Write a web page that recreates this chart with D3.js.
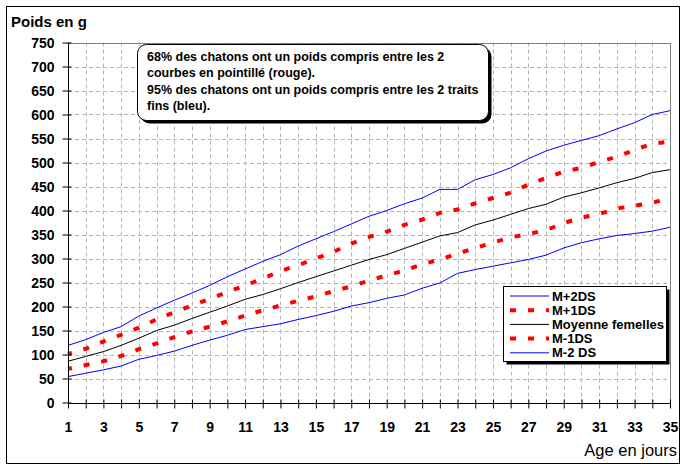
<!DOCTYPE html>
<html><head><meta charset="utf-8">
<script src="https://cdn.jsdelivr.net/npm/d3@7"></script>
<style>
body{margin:0;background:#fff}
text{font-family:"Liberation Sans",Arial,sans-serif}
</style></head>
<body><svg id="c" width="688" height="472"></svg>
<script>
const days = [1,2,3,4,5,6,7,8,9,10,11,12,13,14,15,16,17,18,19,20,21,22,23,24,25,26,27,28,29,30,31,32,33,34,35];
const mPlus2 = [119,131,146,158,180,197,213,228,244,262,278,294,308,326,341,356,372,388,400,414,426,444,444,464,475,489,508,524,536,546,556,570,583,600,608];
const mPlus1 = [101,112,127,141,156,173,188,202,216,230,244,258,274,286,300,314,331,345,356,370,381,395,402,415,426,437,454,468,481,489,501,512,526,539,544];
const mean   = [86,96,106,119,134,150,161,175,188,201,215,225,237,250,262,274,286,298,308,321,334,347,354,370,380,392,404,413,428,437,447,458,467,479,485];
const mMinus1= [70,78,86,97,111,123,136,148,158,169,181,192,202,212,221,232,242,254,265,275,288,298,310,322,333,344,351,359,374,385,393,404,410,416,426];
const mMinus2= [54,61,68,76,90,98,107,119,130,140,152,158,164,173,181,190,201,208,217,224,238,249,269,277,284,291,298,307,322,333,341,348,352,357,365];
const yTicks = [0,50,100,150,200,250,300,350,400,450,500,550,600,650,700,750];
const seriesNames = ["M+2DS","M+1DS","Moyenne femelles","M-1DS","M-2 DS"];
const noteLines = ["68% des chatons ont un poids compris entre les 2","courbes en pointillé (rouge).","95% des chatons ont un poids compris entre les 2 traits","fins (bleu)."];
const yTitle = "Poids en g", xTitle = "Age en jours";

const series = [
  {name:seriesNames[0], values:mPlus2, color:"#0000ff", width:1, dash:null},
  {name:seriesNames[1], values:mPlus1, color:"#ff0000", width:4, dash:"6,12"},
  {name:seriesNames[2], values:mean, color:"#000000", width:1, dash:null},
  {name:seriesNames[3], values:mMinus1, color:"#ff0000", width:4, dash:"6,12"},
  {name:seriesNames[4], values:mMinus2, color:"#0000ff", width:1, dash:null}
];

const svg = d3.select("#c");
const x = d3.scaleLinear().domain([1,35]).range([68,670]);
const y = d3.scaleLinear().domain([0,750]).range([402.5,42.5]);

// outer frame
svg.append("rect").attr("x",6.5).attr("y",6.5).attr("width",673).attr("height",457)
  .attr("fill","#fff").attr("stroke","#000").attr("stroke-width",1);

// gridlines
const grid = svg.append("g").attr("stroke","#b4b4b4").attr("stroke-width",1).attr("stroke-dasharray","4,3");
grid.selectAll(".h").data(yTicks.filter(v=>v>0 && v<750)).enter().append("line")
  .attr("x1",x(1)).attr("x2",x(35)).attr("y1",d=>Math.round(y(d))+0.5).attr("y2",d=>Math.round(y(d))+0.5);
grid.selectAll(".v").data(days.filter(d=>d>1 && d<35)).enter().append("line")
  .attr("y1",y(750)).attr("y2",y(0)).attr("x1",d=>Math.round(x(d))+0.5).attr("x2",d=>Math.round(x(d))+0.5);

// plot border top/right (gray)
svg.append("path").attr("d",`M${x(1)},${Math.round(y(750))+0.5}H${Math.round(x(35))+0.5}V${y(0)}`)
  .attr("fill","none").attr("stroke","#808080").attr("stroke-width",1);

// series lines
const line = d3.line().x((d,i)=>x(days[i])).y(d=>y(d));
series.forEach(s=>{
  const p = svg.append("path").datum(s.values).attr("d",line)
    .attr("fill","none").attr("stroke",s.color).attr("stroke-width",s.width);
  if(s.dash) p.attr("stroke-dasharray",s.dash).attr("stroke-dashoffset",2);
});

// axes
const xAxis = svg.append("g").attr("transform",`translate(0,${Math.round(y(0))+0.5})`)
  .call(d3.axisBottom(x).tickValues(days).tickSize(0).tickPadding(0).tickFormat(d=>d%2?d:""));
xAxis.select(".domain").attr("d",`M${x(1)},0H${x(35)}`).attr("stroke","#000");
xAxis.selectAll(".tick line").attr("y1",-4).attr("y2",5).attr("stroke","#000");
xAxis.selectAll(".tick text").attr("y",28).attr("dy",0).attr("font-size",14).attr("font-weight","bold").attr("fill","#000").attr("font-family",null);

const yAxis = svg.append("g").attr("transform",`translate(${Math.round(x(1))+0.5},0)`)
  .call(d3.axisLeft(y).tickValues(yTicks).tickSize(0).tickPadding(0));
yAxis.select(".domain").attr("d",`M0,${y(750)}V${y(0)}`).attr("stroke","#000");
yAxis.selectAll(".tick line").attr("x1",-6).attr("x2",3).attr("stroke","#000");
yAxis.selectAll(".tick text").attr("x",-14).attr("dy","0.36em").attr("font-size",14).attr("font-weight","bold").attr("fill","#000").attr("font-family",null);

// titles
svg.append("text").attr("x",11).attr("y",27).attr("font-size",15).attr("font-weight","bold").text(yTitle);
svg.append("text").attr("x",677).attr("y",456).attr("text-anchor","end").attr("font-size",16.5).text(xTitle);

// note box
const bx=137.5, by=44.5, bw=351, bh=76;
svg.append("rect").attr("x",bx+3).attr("y",by+3).attr("width",bw).attr("height",bh).attr("rx",9).attr("fill","#000");
svg.append("rect").attr("x",bx).attr("y",by).attr("width",bw).attr("height",bh).attr("rx",9).attr("fill","#fff").attr("stroke","#000");
svg.append("g").selectAll("text").data(noteLines).enter().append("text")
  .attr("x",147).attr("y",(d,i)=>61+i*16.4).attr("font-size",12.5).attr("font-weight","bold").text(d=>d);

// legend
const lx=503.5, ly=286.5, lw=163, lh=75;
svg.append("rect").attr("x",lx+3).attr("y",ly+3).attr("width",lw).attr("height",lh).attr("fill","#000");
svg.append("rect").attr("x",lx).attr("y",ly).attr("width",lw).attr("height",lh).attr("fill","#fff").attr("stroke","#000");
const leg = svg.append("g").selectAll("g").data(series).enter().append("g")
  .attr("transform",(d,i)=>`translate(0,${296+i*14.2})`);
leg.append("line").attr("x1",510).attr("x2",549).attr("y1",0).attr("y2",0)
  .attr("stroke",d=>d.color).attr("stroke-width",d=>d.width).attr("stroke-dasharray",d=>d.dash);
leg.append("text").attr("x",552).attr("y",4.5).attr("font-size",13).attr("font-weight","bold").text(d=>d.name);
</script></body></html>
